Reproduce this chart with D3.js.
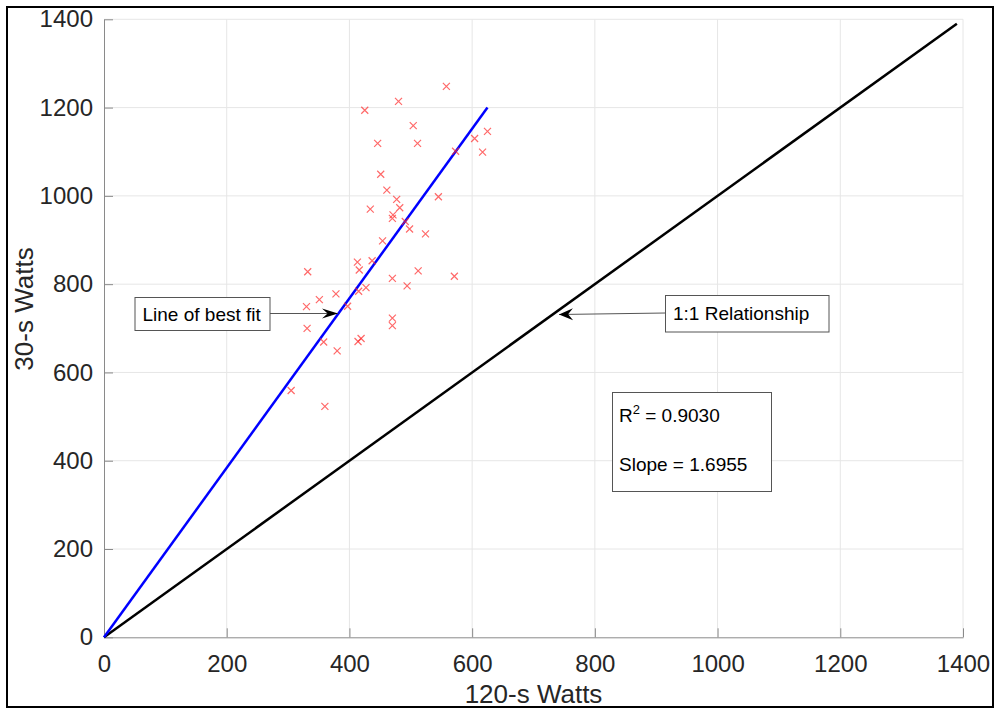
<!DOCTYPE html>
<html>
<head>
<meta charset="utf-8">
<script src="https://cdn.jsdelivr.net/npm/d3@7/dist/d3.min.js"></script>
<style>
  html, body { margin: 0; padding: 0; background: #fff; }
  svg { display: block; font-family: "Liberation Sans", Arial, sans-serif; }
</style>
</head>
<body>
<svg id="chart" width="995" height="709"></svg>
<script>
// 120-s watts (x) vs 30-s watts (y)
const wattsX = [558, 480, 425, 504, 625, 604, 446, 511, 573, 617, 451, 461, 545, 477, 434,
  482, 471, 470, 491, 498, 524, 454, 413, 437, 416, 332, 470, 512, 571, 494, 351, 378, 415,
  427, 330, 397, 470, 470, 331, 358, 419, 414, 380, 305, 360];
const wattsY = [1248, 1214, 1194, 1159, 1146, 1130, 1119, 1119, 1101, 1099, 1049, 1013, 998,
  992, 970, 973, 957, 949, 942, 925, 914, 898, 850, 853, 832, 828, 813, 830, 818, 796, 765,
  778, 784, 792, 749, 750, 723, 706, 700, 669, 677, 670, 649, 559, 523];

const fitX = [0, 625];
const fitY = [0, 1200];
const identityX = [0, 1390];
const identityY = [0, 1390];

const xTicks = [0, 200, 400, 600, 800, 1000, 1200, 1400];
const yTicks = [0, 200, 400, 600, 800, 1000, 1200, 1400];

const svg = d3.select("#chart");
const x = d3.scaleLinear().domain([0, 1400]).range([104, 963]);
const y = d3.scaleLinear().domain([0, 1400]).range([637.3, 19.3]);

const AXIS_COLOR = "#8a8a8a";
const TEXT_COLOR = "#262626";

// grid
const grid = svg.append("g").attr("class", "grid");
grid.selectAll("line.gx")
  .data(xTicks.slice(1))
  .join("line")
  .attr("x1", (d) => x(d)).attr("x2", (d) => x(d))
  .attr("y1", y(0)).attr("y2", y(1400))
  .attr("stroke", "#e6e6e6").attr("stroke-width", 1);
grid.selectAll("line.gy")
  .data(yTicks.slice(1))
  .join("line")
  .attr("x1", x(0)).attr("x2", x(1400))
  .attr("y1", (d) => y(d)).attr("y2", (d) => y(d))
  .attr("stroke", "#e6e6e6").attr("stroke-width", 1);

// axes (ticks point inward, as in MATLAB)
const xAxis = svg.append("g")
  .attr("transform", `translate(0,${y(0)})`)
  .call(d3.axisBottom(x).tickValues(xTicks).tickFormat(d3.format("d"))
    .tickSizeInner(-9).tickSizeOuter(0).tickPadding(12));
const yAxis = svg.append("g")
  .attr("transform", `translate(${x(0)},0)`)
  .call(d3.axisLeft(y).tickValues(yTicks).tickFormat(d3.format("d"))
    .tickSizeInner(-9).tickSizeOuter(0).tickPadding(11));

for (const axis of [xAxis, yAxis]) {
  axis.select(".domain").attr("stroke", AXIS_COLOR);
  axis.selectAll(".tick line").attr("stroke", AXIS_COLOR);
  axis.selectAll(".tick text")
    .attr("fill", TEXT_COLOR)
    .style("font-size", "24px")
    .style("font-family", "'Liberation Sans', Arial, sans-serif");
}
xAxis.selectAll(".tick text").attr("dy", "0.95em");

// reference lines
const line = d3.line().x((d) => x(d[0])).y((d) => y(d[1]));
svg.append("path")
  .datum(identityX.map((v, i) => [v, identityY[i]]))
  .attr("d", line)
  .attr("fill", "none").attr("stroke", "#000").attr("stroke-width", 2.5);
svg.append("path")
  .datum(fitX.map((v, i) => [v, fitY[i]]))
  .attr("d", line)
  .attr("fill", "none").attr("stroke", "#0000ff").attr("stroke-width", 2.5);

// scatter markers
const points = wattsX.map((v, i) => ({ x: v, y: wattsY[i] }));
svg.append("g")
  .selectAll("path")
  .data(points)
  .join("path")
  .attr("transform", (d) => `translate(${x(d.x)},${y(d.y)})`)
  .attr("d", "M-3.5,-3.5L3.5,3.5M-3.5,3.5L3.5,-3.5")
  .attr("stroke", "#ff2a2a")
  .attr("stroke-opacity", 0.7)
  .attr("stroke-width", 1.2)
  .attr("fill", "none");

// annotation arrows
function arrow(x1, y1, x2, y2, len, half) {
  svg.append("line")
    .attr("x1", x1).attr("y1", y1).attr("x2", x2).attr("y2", y2)
    .attr("stroke", "#555").attr("stroke-width", 1);
  const angle = Math.atan2(y2 - y1, x2 - x1) * 180 / Math.PI;
  svg.append("path")
    .attr("transform", `translate(${x2},${y2}) rotate(${angle})`)
    .attr("d", `M0,0L${-len},${-half}L${-len * 0.65},0L${-len},${half}Z`)
    .attr("fill", "#000");
}

function textBox(x0, y0, w, h) {
  svg.append("rect")
    .attr("x", x0).attr("y", y0).attr("width", w).attr("height", h)
    .attr("fill", "#fff").attr("stroke", "#555").attr("stroke-width", 1);
}

arrow(270, 313.5, 338, 313.5, 16, 5);
textBox(135, 297.5, 135, 33);
svg.append("text").attr("x", 142.5).attr("y", 320.5)
  .attr("fill", "#000").style("font-size", "19px").text("Line of best fit");

arrow(665.5, 313, 559, 314.5, 14, 6);
textBox(665.5, 295.5, 163.5, 36.5);
svg.append("text").attr("x", 673).attr("y", 320)
  .attr("fill", "#000").style("font-size", "19px").text("1:1 Relationship");

textBox(612.5, 392.5, 159, 99);
const r2 = svg.append("text").attr("x", 619).attr("y", 421.5)
  .attr("fill", "#000").style("font-size", "19px");
r2.append("tspan").text("R");
r2.append("tspan").attr("dy", -8).style("font-size", "13px").text("2");
r2.append("tspan").attr("dy", 8).text(" = 0.9030");
svg.append("text").attr("x", 619).attr("y", 470.5)
  .attr("fill", "#000").style("font-size", "19px").text("Slope = 1.6955");

// axis titles
svg.append("text")
  .attr("x", (x(0) + x(1400)) / 2).attr("y", 703)
  .attr("text-anchor", "middle")
  .attr("fill", TEXT_COLOR)
  .style("font-size", "26px")
  .text("120-s Watts");
svg.append("text")
  .attr("transform", "translate(33,309) rotate(-90)")
  .attr("text-anchor", "middle")
  .attr("fill", TEXT_COLOR)
  .style("font-size", "26px")
  .text("30-s Watts");

// outer frame
svg.append("rect")
  .attr("x", 7).attr("y", 7).attr("width", 986).attr("height", 700)
  .attr("fill", "none").attr("stroke", "#000").attr("stroke-width", 2);
</script>
</body>
</html>
